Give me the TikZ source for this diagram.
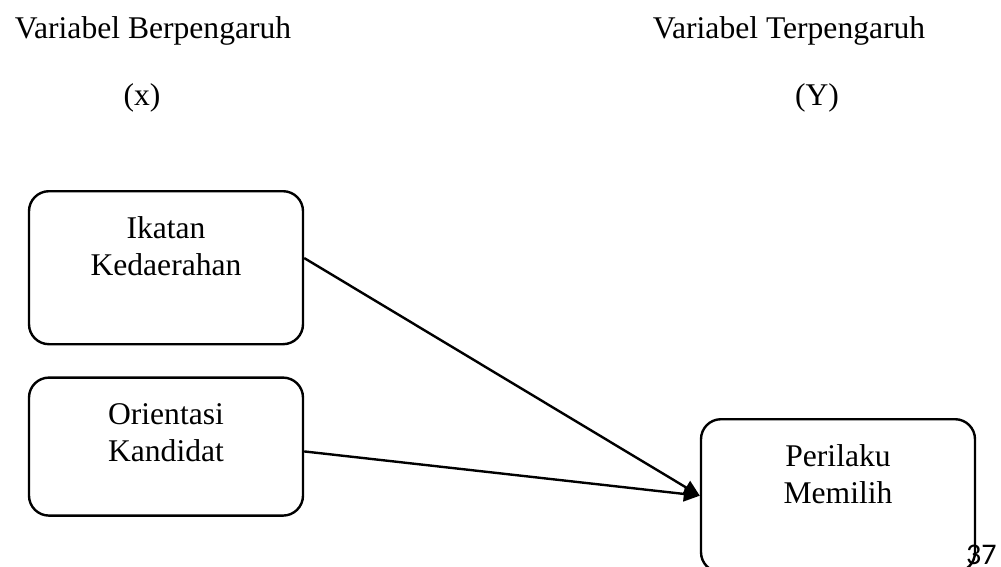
\documentclass[tikz,border=0pt]{standalone}
\usepackage{fontspec}
\setmainfont{Liberation Serif}
\newfontfamily\pagefont{Carlito}
\usepackage{tikz}
\usetikzlibrary{positioning,arrows.meta}

\tikzset{
	varbox/.style={draw, line width=1.2pt, rounded corners=10pt, minimum width=137pt,
		align=center, anchor=north, inner ysep=12pt, text height=30pt, text depth=#1},
	heading/.style={anchor=base, inner sep=0pt},
	link/.style={line width=1.2pt, -{Triangle[length=8pt,width=7.5pt]}}
}

\begin{document}
\begin{tikzpicture} [x=0.5pt, y=-0.5pt, font=\fontsize{15.8}{18.5}\selectfont]
	\clip (0,0) rectangle (1001,567);
	% headings
	\node [heading] (hx) at (153,39) {Variabel Berpengaruh};
	\node [heading] (sx) at (142,105) {(x)};
	\node [heading] (hy) at (789,39) {Variabel Terpengaruh};
	\node [heading] (sy) at (817,105) {(Y)};
	% variables
	\node [varbox=22.5pt] (ikatan) at (166,190) {Ikatan\\Kedaerahan};
	\node [varbox=15pt, below=15.5pt of ikatan] (orientasi) {Orientasi\\Kandidat};
	\node [varbox=22.5pt] (perilaku) at (838,418) {Perilaku\\Memilih};
	% arrows
	\draw [link] (ikatan.4) -- (perilaku.west);
	\draw [link] (orientasi.-2) -- (perilaku.west);
	% page number
	\node [anchor=base east, inner sep=0pt, font=\pagefont\fontsize{15}{18}\selectfont] (page) at (997,564) {37};
\end{tikzpicture}
\end{document}
